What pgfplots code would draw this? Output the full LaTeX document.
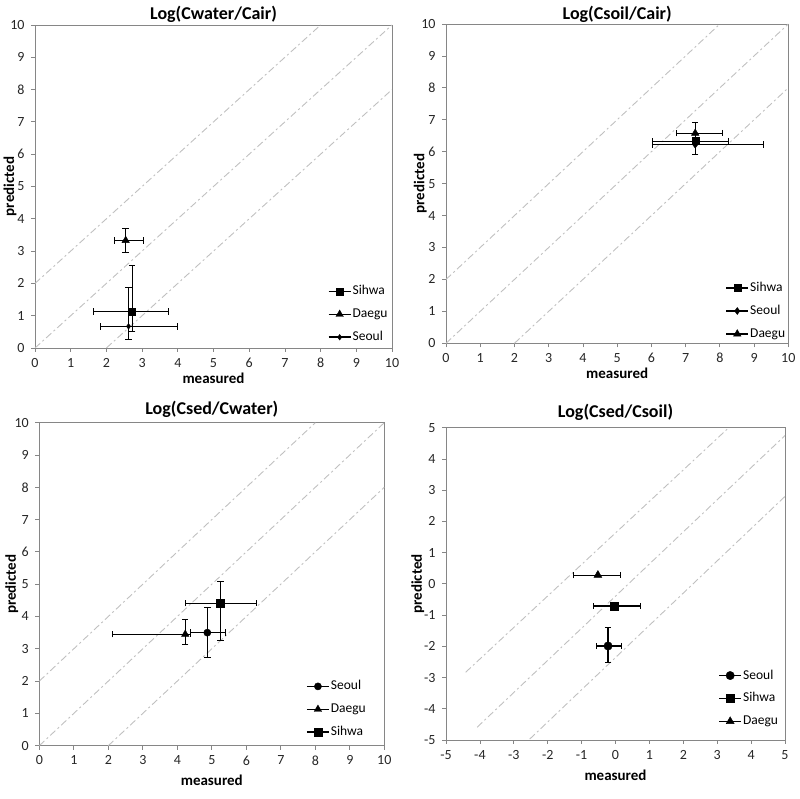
\documentclass[border=0pt]{standalone}
\usepackage{pgfplots}
\pgfplotsset{compat=1.18}
\usepackage{fontspec}
\setmainfont{Carlito}
\definecolor{frame}{RGB}{134,134,134}
\definecolor{dl}{RGB}{192,192,192}
\definecolor{tl}{RGB}{38,38,38}
\pgfplotsset{
  panel/.style={
    scale only axis, anchor=south west,
    axis line style={frame, line width=0.8pt},
    tick style={frame, line width=0.8pt},
    tick align=outside, major tick length=4pt,
    xtick pos=bottom, ytick pos=left,
    /pgf/number format/assume math mode=true,
    tick label style={font=\fontsize{14}{16}\selectfont, text=tl},
    xticklabel style={yshift=-2.5pt},
    yticklabel style={xshift=-3pt},
    title style={font=\bfseries\fontsize{18}{20}\selectfont},
    label style={font=\bfseries\fontsize{15}{17}\selectfont},
    legend cell align=left,
    legend style={draw=none, fill=none, font=\fontsize{13.5}{15}\selectfont, anchor=north west,
      row sep=8.5pt, inner sep=0pt, nodes={inner sep=1.2pt, text height=9.5pt, text depth=2.5pt}},
    legend image code/.code={\draw[mark repeat=2,mark phase=2,line width=1.5pt,#1] plot coordinates {(0pt,0pt) (11pt,0pt) (22pt,0pt)};},
    clip=true,
  },
  diag/.style={dl, line width=0.9pt, dash pattern=on 7pt off 3pt on 2pt off 3pt, forget plot},
  ser/.style={black, line width=1.5pt, mark options={solid, fill=black, line width=0.4pt}},
  ebxy/.style={error bars/.cd, x dir=both, y dir=both, x explicit, y explicit,
     error bar style={line width=1.15pt, black},
     error mark options={rotate=90, line width=1.0pt, black, mark size=3.2pt}},
  ebx/.style={error bars/.cd, x dir=both, y dir=none, x explicit,
     error bar style={line width=1.15pt, black},
     error mark options={rotate=90, line width=1.0pt, black, mark size=3.2pt}},
}
\begin{document}
\begin{tikzpicture}
\useasboundingbox (0pt,0pt) rectangle (799pt,799pt);
% Panel 1
\begin{axis}[panel, at={(35pt,451pt)}, width=357pt, height=323pt,
  xmin=0, xmax=10, ymin=0, ymax=10, xtick={0,...,10}, ytick={0,...,10},
  title={Log(Cwater/Cair)}, title style={yshift=-7pt},
  xlabel={measured}, xlabel style={at={(axis description cs:0.5,-0.093)}, anchor=center},
  ylabel={predicted}, ylabel style={at={(axis description cs:-0.070,0.5)}, anchor=center},
  legend style={at={(axis description cs:0.82,0.198)}}]
\addplot[diag] coordinates {(0,2) (8,10)};
\addplot[diag] coordinates {(0,0) (10,10)};
\addplot[diag] coordinates {(2,0) (10,8)};
\addplot[ser, mark=square*, mark size=3.5pt, ebxy] coordinates {(2.72,1.13) += (1.01,1.42) -= (1.08,0.62)};
\addlegendentry{Sihwa}
\addplot[ser, mark=triangle*, mark size=4.3pt, ebxy] coordinates {(2.54,3.33) += (0.50,0.37) -= (0.32,0.37)};
\addlegendentry{Daegu}
\addplot[ser, mark=diamond*, mark size=2.8pt, ebxy] coordinates {(2.62,0.67) += (1.37,1.20) -= (0.78,0.41)};
\addlegendentry{Seoul}
\end{axis}
% Panel 2
\begin{axis}[panel, at={(446pt,455.7pt)}, width=342.3pt, height=319.3pt,
  xmin=0, xmax=10, ymin=0, ymax=10, xtick={0,...,10}, ytick={0,...,10},
  title={Log(Csoil/Cair)}, title style={yshift=-7.7pt},
  xlabel={measured}, xlabel style={at={(axis description cs:0.5,-0.094)}, anchor=center},
  ylabel={predicted}, ylabel style={at={(axis description cs:-0.075,0.5)}, anchor=center},
  legend style={at={(axis description cs:0.816,0.196)}}]
\addplot[diag] coordinates {(0,2) (8,10)};
\addplot[diag] coordinates {(0,0) (10,10)};
\addplot[diag] coordinates {(2,0) (10,8)};
\addplot[ser, mark=square*, mark size=3.5pt, ebx] coordinates {(7.28,6.33) += (0.98,0) -= (1.25,0)};
\addlegendentry{Sihwa}
\addplot[ser, mark=diamond*, mark size=3.5pt, ebxy] coordinates {(7.28,6.22) += (1.99,0.71) -= (1.25,0.32)};
\addlegendentry{Seoul}
\addplot[ser, mark=triangle*, mark size=4.3pt, ebx] coordinates {(7.28,6.58) += (0.80,0) -= (0.54,0)};
\addlegendentry{Daegu}
\end{axis}
% Panel 3
\begin{axis}[panel, at={(39.3pt,53.3pt)}, width=345pt, height=323pt,
  xmin=0, xmax=10, ymin=0, ymax=10, xtick={0,...,10}, ytick={0,...,10},
  title={Log(Csed/Cwater)}, title style={yshift=-4pt},
  xlabel={measured}, xlabel style={at={(axis description cs:0.5,-0.106)}, anchor=center},
  ylabel={predicted}, ylabel style={at={(axis description cs:-0.080,0.5)}, anchor=center},
  legend style={at={(axis description cs:0.773,0.2065)}}]
\addplot[diag] coordinates {(0,2) (8,10)};
\addplot[diag] coordinates {(0,0) (10,10)};
\addplot[diag] coordinates {(2,0) (10,8)};
\addplot[ser, mark=*, mark size=3.6pt, ebxy] coordinates {(4.87,3.50) += (0.52,0.78) -= (0.48,0.76)};
\addlegendentry{Seoul}
\addplot[ser, mark=triangle*, mark size=4.3pt, ebxy] coordinates {(4.23,3.45) += (0.14,0.46) -= (2.10,0.31)};
\addlegendentry{Daegu}
\addplot[ser, mark=square*, mark size=3.8pt, ebxy] coordinates {(5.25,4.41) += (1.04,0.67) -= (1.00,1.16)};
\addlegendentry{Sihwa}
\end{axis}
% Panel 4
\begin{axis}[panel, at={(446pt,59pt)}, width=339pt, height=312.3pt,
  xmin=-5, xmax=5, ymin=-5, ymax=5, xtick={-5,...,5}, ytick={-5,...,5},
  title={Log(Csed/Csoil)}, title style={yshift=-2.5pt},
  xlabel={measured}, xlabel style={at={(axis description cs:0.5,-0.112)}, anchor=center},
  ylabel={predicted}, ylabel style={at={(axis description cs:-0.083,0.5)}, anchor=center},
  legend style={at={(axis description cs:0.803,0.23)}}]
\addplot[diag] coordinates {(-4.42,-2.83) (3.29,4.95)};
\addplot[diag] coordinates {(-4.08,-4.59) (5,4.75)};
\addplot[diag] coordinates {(-2.53,-4.97) (5,2.80)};
\addplot[ser, mark=*, mark size=4.2pt, ebxy] coordinates {(-0.22,-1.99) += (0.41,0.60) -= (0.35,0.52)};
\addlegendentry{Seoul}
\addplot[ser, mark=square*, mark size=4.2pt, ebx] coordinates {(-0.03,-0.71) += (0.78,0) -= (0.61,0)};
\addlegendentry{Sihwa}
\addplot[ser, mark=triangle*, mark size=4.6pt, ebx] coordinates {(-0.52,0.28) += (0.68,0) -= (0.71,0)};
\addlegendentry{Daegu}
\end{axis}
\end{tikzpicture}
\end{document}
